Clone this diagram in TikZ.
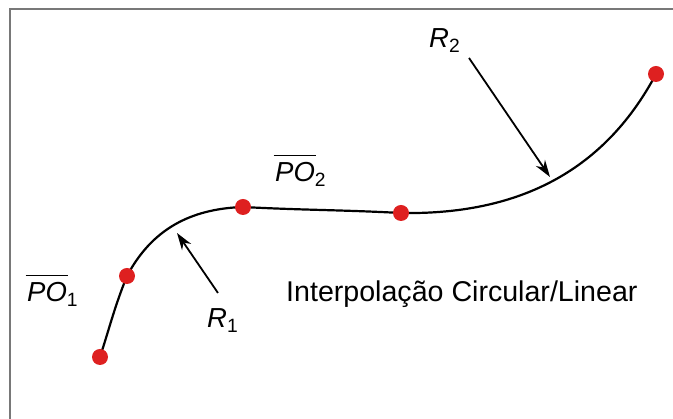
\documentclass[tikz,border=0pt]{standalone}
\usepackage{fontspec}
\setmainfont{Liberation Sans}
\usetikzlibrary{arrows.meta}
\definecolor{dotred}{RGB}{222,32,32}
\definecolor{framegray}{RGB}{120,120,120}
\newlength\ovlw
\newcommand\myovl[1]{\settowidth\ovlw{#1}\rlap{\hspace*{-1.5pt}\rule[25.5pt]{\dimexpr\ovlw+3pt\relax}{1.8pt}}#1}
\tikzset{
  dot/.style={circle,fill=dotred,inner sep=0pt,minimum size=16pt},
  curveline/.style={line width=2.2pt,black},
  pointer/.style={line width=1.8pt,-{Stealth[length=17pt,width=11pt]}},
  lbl/.style={inner sep=0pt,anchor=base west,font=\fontsize{27.5}{32}\selectfont},
  framestyle/.style={line width=1.5pt,framegray}
}
\begin{document}
\begin{tikzpicture}[x=1pt,y=1pt]
\useasboundingbox (0,0) rectangle (673,419);
% frame
\coordinate (ftl) at (10,410);
\coordinate (ftr) at (673,410);
\coordinate (fbl) at (10,0);
\draw[framestyle] (fbl) -- (ftl) -- (ftr);
% points
\coordinate (c1) at (100,62);
\coordinate (c2) at (127,143);
\coordinate (c3) at (243,212);
\coordinate (c4) at (401,206);
\coordinate (c5) at (656,345);
\draw[curveline] (c1) to[out=72,in=-112] (c2) to[out=62,in=182] (c3)
  to[out=-3,in=177] (c4) to[out=-1,in=-118] (c5);
\node[dot] (p1) at (c1) {};
\node[dot] (p2) at (c2) {};
\node[dot] (p3) at (c3) {};
\node[dot] (p4) at (c4) {};
\node[dot] (p5) at (c5) {};
% arrows
\coordinate (a1s) at (218,126);
\coordinate (a1e) at (177,186);
\coordinate (a2s) at (469,361);
\coordinate (a2e) at (550,242);
\draw[pointer] (a1s) -- (a1e);
\draw[pointer] (a2s) -- (a2e);
% labels
\node[lbl] (r1) at (207,91) {\textit{R}\textsubscript{1}};
\node[lbl] (r2) at (429,371) {\textit{R}\textsubscript{2}};
\node[lbl] (po1) at (27,117) {\myovl{\textit{PO}}\textsubscript{1}};
\node[lbl] (po2) at (275,237) {\myovl{\textit{PO}}\textsubscript{2}};
\node[lbl,font=\fontsize{28.6}{33}\selectfont] (title) at (286,117) {Interpolação Circular/Linear};
\end{tikzpicture}
\end{document}
